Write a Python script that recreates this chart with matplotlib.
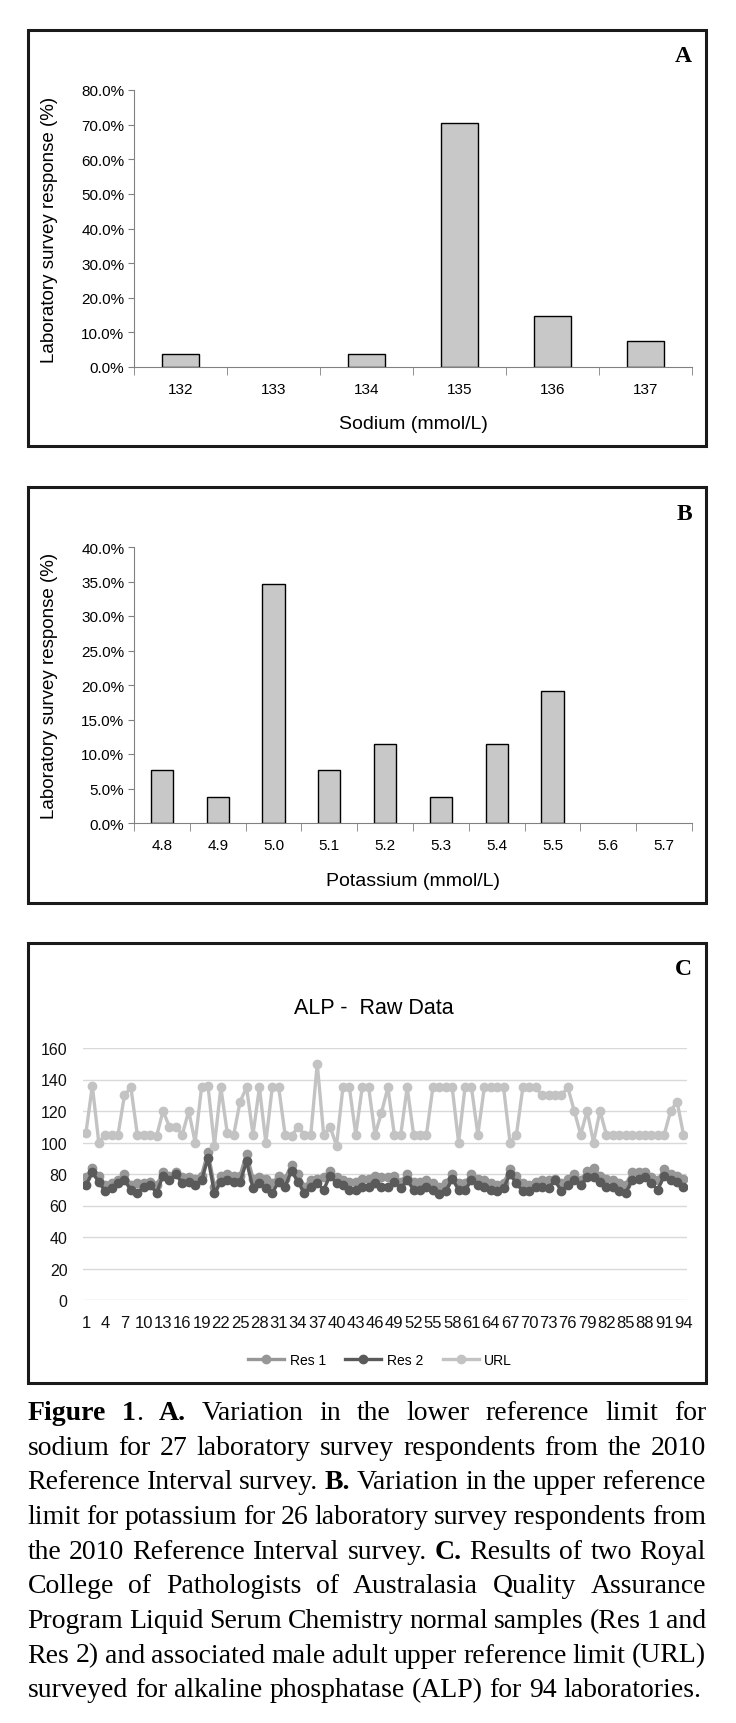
#!/usr/bin/env python3
"""Figure 1: sodium / potassium reference limit survey and ALP raw data."""

import matplotlib
matplotlib.use("Agg")
import matplotlib.pyplot as plt
import numpy as np
from matplotlib import font_manager
from matplotlib.patches import Rectangle
from matplotlib.ticker import FuncFormatter

W, H, DPI = 736, 1724, 100

# ---- data -------------------------------------------------------------
sodium_labels = ["132", "133", "134", "135", "136", "137"]
sodium_pct = [3.7, 0.0, 3.7, 70.4, 14.8, 7.4]

potassium_labels = ["4.8", "4.9", "5.0", "5.1", "5.2", "5.3", "5.4", "5.5", "5.6", "5.7"]
potassium_pct = [7.7, 3.8, 34.6, 7.7, 11.5, 3.8, 11.5, 19.2, 0.0, 0.0]

lab_index = list(range(1, 95))
res1 = [78, 84, 79, 73, 74, 76, 80, 73, 74, 74,
        75, 73, 81, 79, 81, 78, 78, 77, 79, 94,
        72, 79, 80, 79, 79, 93, 77, 78, 77, 74,
        79, 77, 86, 80, 72, 76, 77, 78, 82, 78,
        76, 75, 75, 77, 77, 79, 78, 78, 79, 75,
        80, 75, 75, 76, 74, 72, 74, 80, 74, 74,
        80, 77, 76, 74, 73, 74, 83, 79, 74, 73,
        75, 76, 76, 77, 74, 77, 80, 76, 82, 84,
        79, 77, 76, 74, 73, 81, 81, 81, 78, 76,
        83, 80, 79, 77]
res2 = [73, 81, 75, 69, 71, 74, 76, 70, 68, 72,
        73, 68, 79, 76, 80, 74, 75, 73, 76, 90,
        68, 75, 76, 75, 75, 88, 71, 74, 71, 68,
        75, 72, 82, 75, 68, 72, 74, 70, 79, 74,
        73, 70, 70, 72, 72, 74, 72, 72, 75, 71,
        76, 70, 70, 72, 70, 67, 69, 77, 70, 70,
        76, 73, 72, 70, 69, 71, 80, 74, 69, 69,
        72, 72, 71, 76, 69, 73, 76, 73, 78, 78,
        75, 72, 72, 69, 68, 76, 77, 78, 74, 70,
        79, 76, 75, 72]
url = [106, 136, 100, 105, 105, 105, 130, 135, 105, 105,
       105, 104, 120, 110, 110, 105, 120, 100, 135, 136,
       98, 135, 106, 105, 126, 135, 105, 135, 100, 135,
       135, 105, 104, 110, 105, 105, 150, 105, 110, 98,
       135, 135, 105, 135, 135, 105, 119, 135, 105, 105,
       135, 105, 105, 105, 135, 135, 135, 135, 100, 135,
       135, 105, 135, 135, 135, 135, 100, 105, 135, 135,
       135, 130, 130, 130, 130, 135, 120, 105, 120, 100,
       120, 105, 105, 105, 105, 105, 105, 105, 105, 105,
       105, 120, 126, 105]

caption_lines = [
    "**Figure 1**. **A.** Variation in the lower reference limit for",
    "sodium for 27 laboratory survey respondents from the 2010",
    "Reference Interval survey. **B.** Variation in the upper reference",
    "limit for potassium for 26 laboratory survey respondents from",
    "the 2010 Reference Interval survey. **C.** Results of two Royal",
    "College of Pathologists of Australasia Quality Assurance",
    "Program Liquid Serum Chemistry normal samples (Res 1 and",
    "Res 2) and associated male adult upper reference limit (URL)",
    "surveyed for alkaline phosphatase (ALP) for 94 laboratories.",
]


def pick_font(*names):
    avail = {f.name for f in font_manager.fontManager.ttflist}
    for n in names:
        if n in avail:
            return n
    return "DejaVu Sans"


SANS = pick_font("Liberation Sans", "Arial")
SERIF = pick_font("Liberation Serif", "DejaVu Serif")
plt.rcParams["font.family"] = [SANS, "DejaVu Sans"]


def rect(left, top, right, bottom):
    return [left / W, 1 - bottom / H, (right - left) / W, (bottom - top) / H]


def frame(fig, top, bottom, letter, letter_y):
    fig.patches.append(Rectangle((27.5 / W, 1 - bottom / H), (706 - 27.5) / W,
                                 (bottom - top) / H, transform=fig.transFigure,
                                 fill=False, lw=2.2, ec="#1a1a1a"))
    fig.text(692 / W, 1 - letter_y / H, letter, ha="right", va="center",
             fontsize=17, fontweight="bold", family=SERIF)


def bar_panel(fig, box, labels, values, ymax, ystep, xlabel):
    left, top, right, bottom = box
    ax = fig.add_axes(rect(*box))
    x = np.arange(len(labels))
    edge_w = [1.0 if v > 0 else 0.0 for v in values]
    ax.bar(x, values, width=0.4, color="#c8c8c8", edgecolor="black", linewidth=edge_w)
    ax.set_xlim(-0.5, len(labels) - 0.5)
    ax.set_ylim(0, ymax)
    ax.set_yticks(np.arange(0, ymax + ystep / 2, ystep))
    ax.yaxis.set_major_formatter(FuncFormatter(lambda v, _: f"{v:.1f}%"))
    ax.set_xticks(x)
    ax.set_xticklabels(labels)
    ax.set_xticks(np.arange(-0.5, len(labels)), minor=True)
    ax.tick_params(axis="x", which="major", length=0, pad=11, labelsize=11)
    ax.tick_params(axis="x", which="minor", length=6, color="#808080")
    ax.tick_params(axis="y", length=4, color="#808080", labelsize=11, pad=3)
    for s in ["top", "right"]:
        ax.spines[s].set_visible(False)
    for s in ["left", "bottom"]:
        ax.spines[s].set_color("#808080")
    ax.set_xlabel(xlabel, fontsize=14)
    ax.xaxis.label.set_va("center")
    ax.xaxis.set_label_coords(0.5, -57 / (bottom - top))
    ax.set_ylabel("Laboratory survey response (%)", fontsize=13.5)
    ax.yaxis.label.set_va("center")
    ax.yaxis.set_label_coords(-(left - 50) / (right - left), 0.5)
    return ax


def parse_words(line):
    parts = line.split("**")
    words, cur = [], []
    for k, part in enumerate(parts):
        bold = k % 2 == 1
        for ch in part:
            if ch == " ":
                if cur:
                    words.append(cur)
                cur = []
            else:
                if cur and cur[-1][1] == bold:
                    cur[-1] = (cur[-1][0] + ch, bold)
                else:
                    cur.append((ch, bold))
    if cur:
        words.append(cur)
    return words


def draw_caption(fig, lines, x0, x1, y0, dy, size):
    renderer = fig.canvas.get_renderer()
    probe = fig.text(0, 0, "a a", fontsize=size, family=SERIF)
    probe2 = fig.text(0, 0, "aa", fontsize=size, family=SERIF)
    space = (probe.get_window_extent(renderer).width
             - probe2.get_window_extent(renderer).width)
    probe.remove()
    probe2.remove()
    for n, line in enumerate(lines):
        y = 1 - (y0 + n * dy) / H
        words = parse_words(line)
        runs = []
        widths = []
        for word in words:
            items = []
            wsum = 0.0
            for text, bold in word:
                t = fig.text(0, y, text, fontsize=size, family=SERIF,
                             fontweight="bold" if bold else "normal", va="baseline")
                w = t.get_window_extent(renderer).width
                items.append((t, w))
                wsum += w
            runs.append(items)
            widths.append(wsum)
        if n < len(lines) - 1 and len(words) > 1:
            gap = ((x1 - x0) - sum(widths)) / (len(words) - 1)
        else:
            gap = space
        x = x0
        for items, wsum in zip(runs, widths):
            xx = x
            for t, w in items:
                t.set_x(xx / W)
                xx += w
            x += wsum + gap


fig = plt.figure(figsize=(W / DPI, H / DPI), dpi=DPI)

# ---- panel A ------------------------------------------------------------
frame(fig, 31, 447, "A", 57)
bar_panel(fig, (134, 91, 692, 368), sodium_labels, sodium_pct, 80, 10, "Sodium (mmol/L)")

# ---- panel B ------------------------------------------------------------
frame(fig, 488, 904, "B", 515)
bar_panel(fig, (134, 548, 692, 824), potassium_labels, potassium_pct, 40, 5,
          "Potassium (mmol/L)")

# ---- panel C ------------------------------------------------------------
frame(fig, 944, 1384, "C", 970)
axc = fig.add_axes(rect(82.7, 1049, 686.7, 1301))
axc.plot(lab_index, res1, color="#979797", lw=2.4, marker="o", ms=6, label="Res 1")
axc.plot(lab_index, res2, color="#5a5a5a", lw=2.4, marker="o", ms=6, label="Res 2")
axc.plot(lab_index, url, color="#c3c3c3", lw=2.4, marker="o", ms=6, label="URL")
axc.set_xlim(0.5, 94.5)
axc.set_ylim(0, 160)
axc.set_yticks(np.arange(0, 161, 20))
axc.set_xticks(lab_index[::3])
axc.set_xticklabels([str(i) for i in lab_index[::3]])
axc.grid(axis="y", color="#d9d9d9", lw=1)
axc.set_axisbelow(True)
for s in axc.spines.values():
    s.set_visible(False)
axc.tick_params(axis="x", length=0, pad=11, labelsize=12, colors="#111111")
axc.tick_params(axis="y", length=0, pad=11, labelsize=11.5, colors="#111111")
fig.text(374 / W, 1 - 1009 / H, "ALP -  Raw Data", ha="center", va="center", fontsize=15.5)
fig.legend(loc="center", bbox_to_anchor=(380 / W, 1 - 1361 / H), ncol=3,
           frameon=False, fontsize=10, handlelength=2.6, columnspacing=1.4,
           handletextpad=0.4)

# ---- caption ------------------------------------------------------------
draw_caption(fig, caption_lines, 27.5, 706, 1420, 34.65, 20)

fig.savefig("out.png", dpi=DPI)
